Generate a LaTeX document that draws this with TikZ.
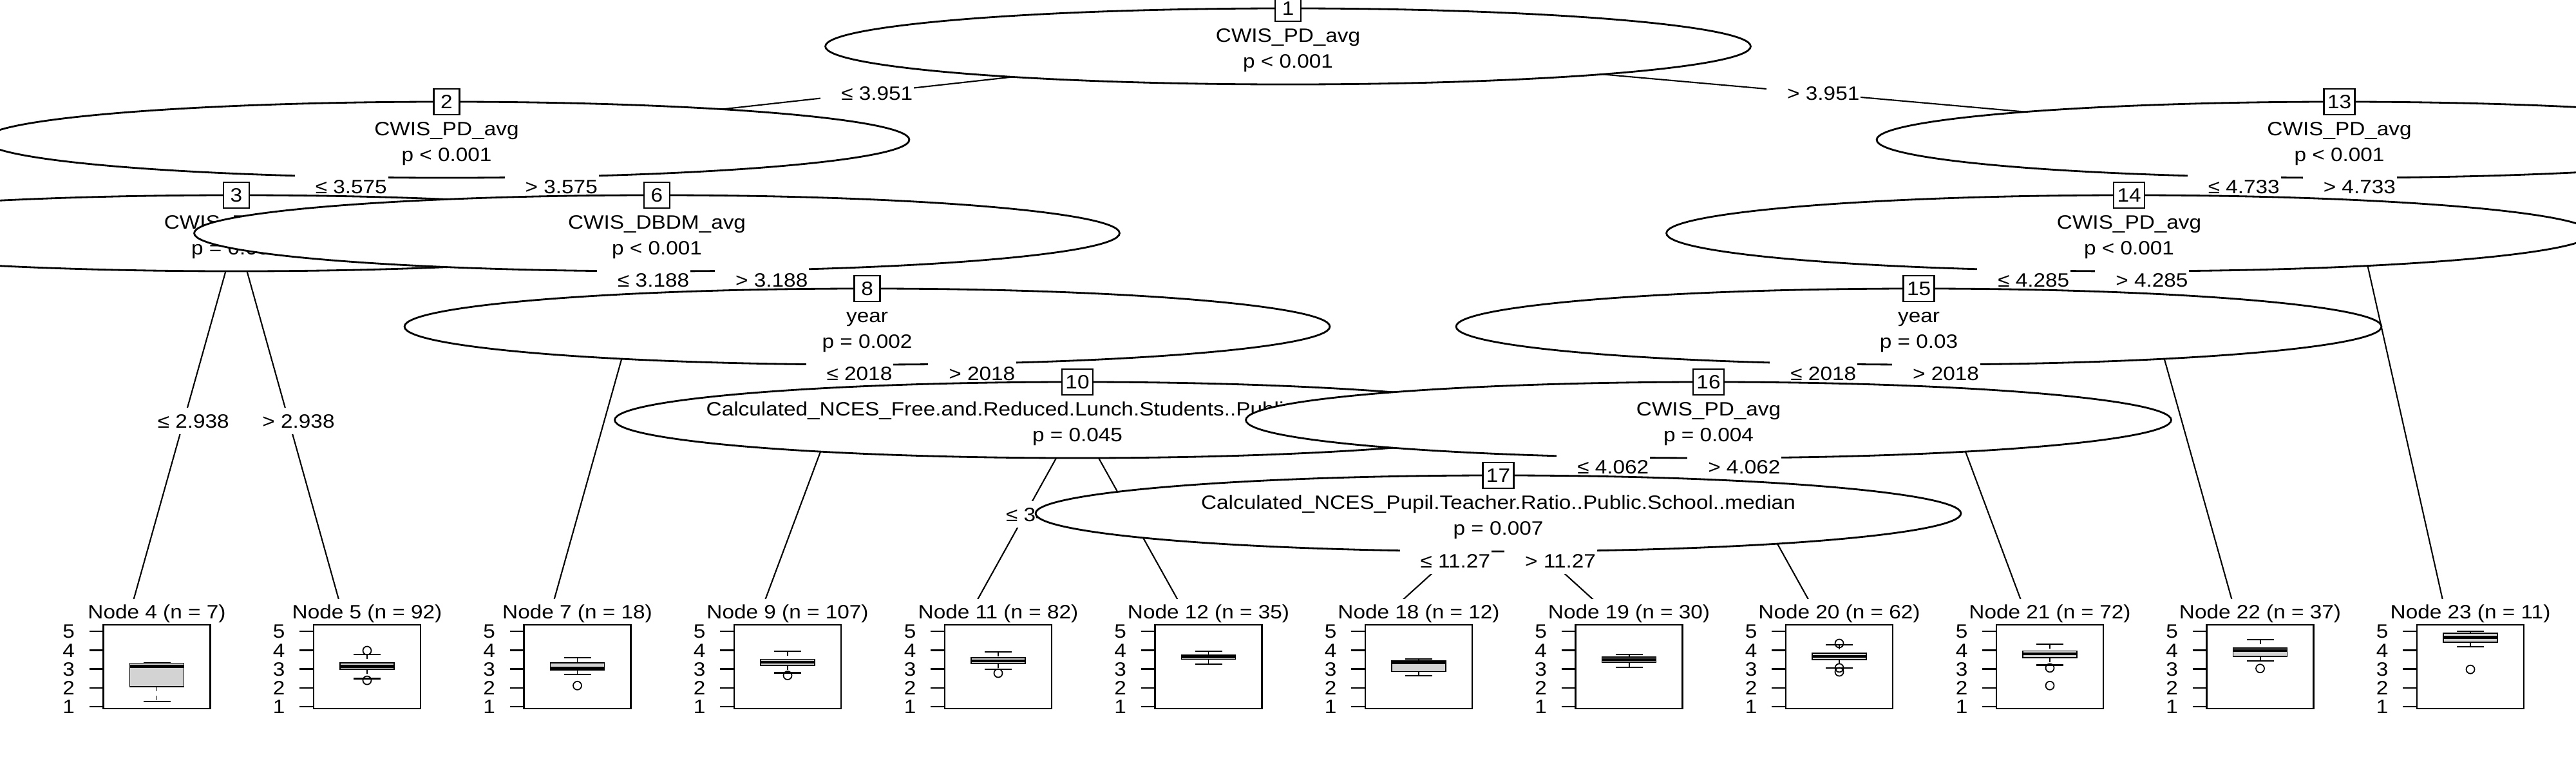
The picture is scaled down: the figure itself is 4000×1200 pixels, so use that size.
\documentclass[tikz,border=0pt]{standalone}
\usepackage{fontspec}
\setmainfont{Liberation Sans}[FakeStretch=1.11]
\usetikzlibrary{shapes.geometric,calc,backgrounds}
\definecolor{boxgray}{HTML}{D3D3D3}
\newcommand\dfont{\fontsize{8.54pt}{10pt}\selectfont}
\tikzset{
  innernode/.style={ellipse, draw, fill=white, line width=0.8pt, minimum width=14.36cm, minimum height=1.18cm, inner sep=0pt},
  idbox/.style={draw, fill=white, line width=0.65pt, minimum width=0.4cm, minimum height=0.4cm, inner xsep=0.055cm, inner ysep=0pt},
  ntxt/.style={inner sep=0pt, anchor=base},
  elab/.style={fill=white, inner sep=0pt, minimum height=0.4cm, text height=6.1pt, text depth=0pt},
  ttl/.style={fill=white, inner xsep=1pt, inner ysep=0pt, minimum height=0.4cm, text height=6.1pt, text depth=0pt},
  axl/.style={anchor=east, inner sep=0pt, text height=6.1pt, text depth=0pt},
  conn/.style={line width=0.6pt},
  tickl/.style={line width=0.65pt},
  pframe/.style={line width=0.7pt},
  whisk/.style={line width=0.55pt, dash pattern=on 0.07cm off 0.07cm},
  capline/.style={line width=0.6pt},
  bxs/.style={fill=boxgray, line width=0.5pt},
  medl/.style={line width=1.25pt},
  outc/.style={line width=0.5pt}
}
% inner node: name, centre coordinate, id, line 1, line 2
\newcommand\inode[5]{%
  \node[innernode] (#1) at (#2) {};
  \node[idbox] (#1id) at ($(#2)+(0,-59)$) {#3};
  \node[ntxt] (#1a) at ($(#2)+(0,-7)$) {#4};
  \node[ntxt] (#1b) at ($(#2)+(0,33)$) {#5};
}
% edge label: name, from, to, position, text
\newcommand\elabel[6][]{%
  \node[elab,#1] (#2) at ($(#3)!#5!(#4)$) {\hspace*{0.32cm}#6\hspace*{0.02cm}};
}
% boxplot: centre x, hi, q3, median, q1, lo
\newcommand\bxp[6]{%
  \pgfmathsetmacro\bxyh{1126.2-29.2*#2}%
  \pgfmathsetmacro\bxyqt{1126.2-29.2*#3}%
  \pgfmathsetmacro\bxym{1126.2-29.2*#4}%
  \pgfmathsetmacro\bxyqo{1126.2-29.2*#5}%
  \pgfmathsetmacro\bxyl{1126.2-29.2*#6}%
  \draw[whisk] (#1,\bxyh) -- (#1,\bxyqt);
  \draw[whisk] (#1,\bxyqo) -- (#1,\bxyl);
  \draw[capline] (#1-21,\bxyh) -- (#1+21,\bxyh);
  \draw[capline] (#1-21,\bxyl) -- (#1+21,\bxyl);
  \draw[bxs] (#1-42,\bxyqt) rectangle (#1+42,\bxyqo);
  \draw[medl] (#1-42,\bxym) -- (#1+42,\bxym);
}
\newcommand\outl[2]{\draw[outc] (#1,1126.2-29.2*#2) circle [radius=0.065cm];}
% terminal node: id, centre x, title, hi, q3, median, q1, lo
\newcommand\tnode[8]{%
  \node[ttl] (t#1) at (#2,950) {#3};
  \foreach \v in {1,...,5}{
    \draw[tickl] (#2-105,1126.2-29.2*\v) -- (#2-83,1126.2-29.2*\v);
    \node[axl] (a#1-\v) at (#2-127,1126.2-29.2*\v) {\v};
  }
  \draw[pframe] (#2-83,970) rectangle (#2+83,1100);
  \bxp{#2}{#4}{#5}{#6}{#7}{#8}
}
\begin{document}
\begin{tikzpicture}[x=0.01cm,y=-0.01cm,font=\dfont]
\useasboundingbox (0,0) rectangle (4000,1200);
% centres of inner nodes
\coordinate (c1) at (2000,72);
\coordinate (c2) at (693.5,217);
\coordinate (c3) at (367,362);
\coordinate (c6) at (1020,362);
\coordinate (c8) at (1346.5,507);
\coordinate (c10) at (1673,652);
\coordinate (c13) at (3632.5,217);
\coordinate (c14) at (3306,362);
\coordinate (c15) at (2979.5,507);
\coordinate (c16) at (2653,652);
\coordinate (c17) at (2326.5,797);
% targets of terminal nodes
\coordinate (k4) at (203.5,945);
\coordinate (k5) at (530,945);
\coordinate (k7) at (856.5,945);
\coordinate (k9) at (1183,945);
\coordinate (k11) at (1510,945);
\coordinate (k12) at (1836.5,945);
\coordinate (k18) at (2163,945);
\coordinate (k19) at (2489.5,945);
\coordinate (k20) at (2816,945);
\coordinate (k21) at (3143,945);
\coordinate (k22) at (3469.5,945);
\coordinate (k23) at (3796,945);

\inode{n1}{c1}{1}{CWIS\_PD\_avg}{p < 0.001}
\elabel{e2}{c1}{c2}{0.5}{≤ 3.951}
\elabel{e13}{c1}{c13}{0.5}{> 3.951}

\inode{n2}{c2}{2}{CWIS\_PD\_avg}{p < 0.001}
\elabel{e3}{c2}{c3}{0.5}{≤ 3.575}
\elabel{e6}{c2}{c6}{0.5}{> 3.575}

\inode{n3}{c3}{3}{CWIS\_PD\_avg}{p = 0.003}
\elabel{e4}{c3}{k4}{0.5}{≤ 2.938}
\elabel{e5}{c3}{k5}{0.5}{> 2.938}
\tnode{4}{243.5}{Node 4 (n = 7)}{3.33}{3.31}{3.14}{2.07}{1.28}
\tnode{5}{570}{Node 5 (n = 92)}{3.77}{3.34}{3.14}{2.98}{2.49}
\outl{570}{3.98}
\outl{570}{2.40}

\inode{n6}{c6}{6}{CWIS\_DBDM\_avg}{p < 0.001}
\elabel{e7}{c6}{k7}{0.1244}{≤ 3.188}
\elabel{e8}{c6}{c8}{0.5}{> 3.188}
\tnode{7}{896.5}{Node 7 (n = 18)}{3.61}{3.34}{3.05}{2.95}{2.72}
\outl{896.5}{2.12}

\inode{n8}{c8}{8}{year}{p = 0.002}
\elabel{e9}{c8}{k9}{0.1655}{≤ 2018}
\elabel{e10}{c8}{c10}{0.5}{> 2018}
\tnode{9}{1223}{Node 9 (n = 107)}{3.94}{3.52}{3.36}{3.18}{2.80}
\outl{1223}{2.66}

\inode{n10}{c10}{10}{Calculated\_NCES\_Free.and.Reduced.Lunch.Students..Public.School..median}{p = 0.045}
\elabel[xshift=0.11cm]{e11}{c10}{k11}{0.5}{≤ 34.67}
\elabel[xshift=0.11cm]{e12}{c10}{k12}{0.5}{> 34.67}
\tnode{11}{1550}{Node 11 (n = 82)}{3.90}{3.61}{3.43}{3.29}{3.00}
\outl{1550}{2.78}
\tnode{12}{1876.5}{Node 12 (n = 35)}{3.96}{3.75}{3.65}{3.52}{3.26}

\inode{n13}{c13}{13}{CWIS\_PD\_avg}{p < 0.001}
\elabel{e14}{c13}{c14}{0.5}{≤ 4.733}
\elabel{e23}{c13}{k23}{0.0996}{> 4.733}

\inode{n14}{c14}{14}{CWIS\_PD\_avg}{p < 0.001}
\elabel{e15}{c14}{c15}{0.5}{≤ 4.285}
\elabel{e22}{c14}{k22}{0.1244}{> 4.285}

\inode{n15}{c15}{15}{year}{p = 0.03}
\elabel{e16}{c15}{c16}{0.5}{≤ 2018}
\elabel{e21}{c15}{k21}{0.1655}{> 2018}

\inode{n16}{c16}{16}{CWIS\_PD\_avg}{p = 0.004}
\elabel{e17}{c16}{c17}{0.5}{≤ 4.062}
\elabel{e20}{c16}{k20}{0.2474}{> 4.062}

\inode{n17}{c17}{17}{Calculated\_NCES\_Pupil.Teacher.Ratio..Public.School..median}{p = 0.007}
\elabel{e18}{c17}{k18}{0.5}{≤ 11.27}
\elabel{e19}{c17}{k19}{0.5}{> 11.27}
\tnode{18}{2203}{Node 18 (n = 12)}{3.52}{3.42}{3.35}{2.87}{2.63}
\tnode{19}{2529.5}{Node 19 (n = 30)}{3.77}{3.63}{3.51}{3.36}{3.09}

\tnode{20}{2856}{Node 20 (n = 62)}{4.28}{3.85}{3.67}{3.50}{3.05}
\outl{2856}{4.36}
\outl{2856}{3.06}
\outl{2856}{2.85}

\tnode{21}{3183}{Node 21 (n = 72)}{4.32}{3.96}{3.80}{3.60}{3.21}
\outl{3183}{3.06}
\outl{3183}{2.12}

\tnode{22}{3509.5}{Node 22 (n = 37)}{4.55}{4.11}{3.97}{3.66}{3.44}
\outl{3509.5}{3.03}

\tnode{23}{3836}{Node 23 (n = 11)}{5.00}{4.91}{4.68}{4.42}{4.20}
\outl{3836}{2.98}

\begin{scope}[on background layer]
\fill[white] (0,0) rectangle (4000,1200);
\draw[conn] (n1.center) -- (n2.center);
\draw[conn] (n1.center) -- (n13.center);
\draw[conn] (n2.center) -- (n3.center);
\draw[conn] (n2.center) -- (n6.center);
\draw[conn] (n3.center) -- (k4);
\draw[conn] (n3.center) -- (k5);
\draw[conn] (n6.center) -- (k7);
\draw[conn] (n6.center) -- (n8.center);
\draw[conn] (n8.center) -- (k9);
\draw[conn] (n8.center) -- (n10.center);
\draw[conn] (n10.center) -- (k11);
\draw[conn] (n10.center) -- (k12);
\draw[conn] (n13.center) -- (n14.center);
\draw[conn] (n13.center) -- (k23);
\draw[conn] (n14.center) -- (n15.center);
\draw[conn] (n14.center) -- (k22);
\draw[conn] (n15.center) -- (n16.center);
\draw[conn] (n15.center) -- (k21);
\draw[conn] (n16.center) -- (n17.center);
\draw[conn] (n16.center) -- (k20);
\draw[conn] (n17.center) -- (k18);
\draw[conn] (n17.center) -- (k19);
\end{scope}
\end{tikzpicture}
\end{document}
